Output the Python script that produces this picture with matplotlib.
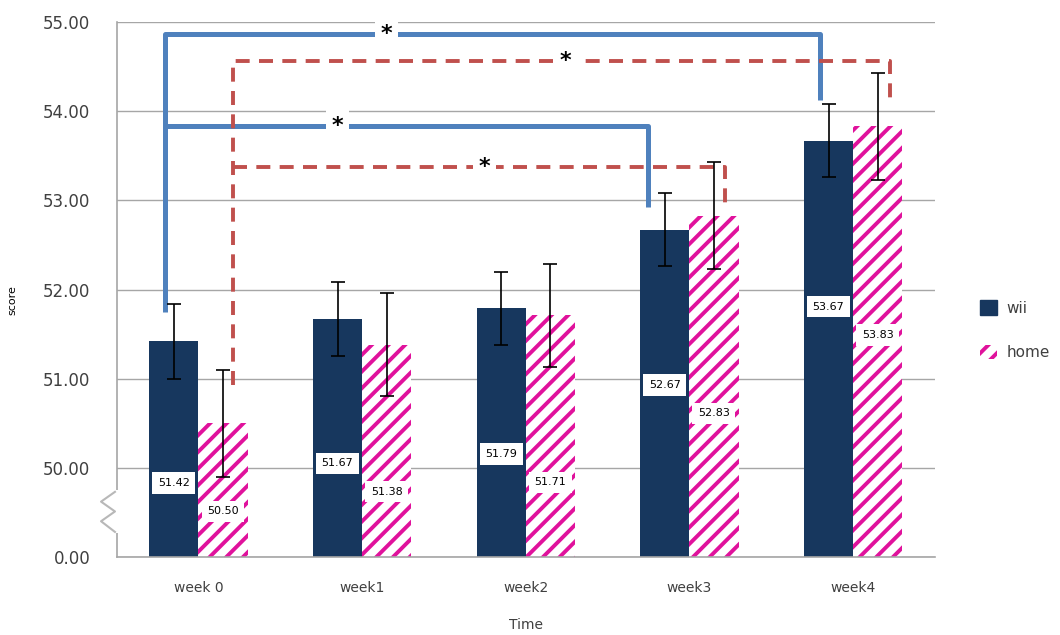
import matplotlib
matplotlib.use("Agg")
import matplotlib.pyplot as plt
from matplotlib.patches import Patch, Rectangle

# Werte aus dem Diagramm
weeks = ["week 0", "week1", "week2", "week3", "week4"]
wii = [51.42, 51.67, 51.79, 52.67, 53.67]
home = [50.50, 51.38, 51.71, 52.83, 53.83]
wii_err = [0.42, 0.41, 0.41, 0.41, 0.41]
home_err = [0.60, 0.58, 0.58, 0.60, 0.60]
ytick_values = [0, 50, 51, 52, 53, 54, 55]

# Signifikanz-Klammern: (x links, x rechts, Höhe, unten links, unten rechts, Stern-x, Farbe, Stil)
brackets = [
    (-0.207, 3.797, 54.87, 51.75, 54.13, 1.150, "#4F81BD", "-"),
    (-0.207, 2.746, 53.84, 53.84, 52.93, 0.851, "#4F81BD", "-"),
    (0.209, 4.225, 54.57, 50.93, 54.13, 2.244, "#C0504D", (0, (3.6, 2.4))),
    (0.209, 3.216, 53.38, 53.38, 52.93, 1.749, "#C0504D", (0, (3.6, 2.4))),
]

WII_COLOR = "#17375E"
HOME_COLOR = "#E0129C"
GRID = "#A6A6A6"
TEXT = "#404040"


def disp(v):
    # unterbrochene Achse: 0 unten, danach 50..55
    return 0 if v == 0 else v - 49


plt.rcParams["hatch.linewidth"] = 2.8
plt.rcParams["hatch.color"] = HOME_COLOR

fig = plt.figure(figsize=(10.6, 6.35), dpi=100)
ax = fig.add_axes([0.110, 0.123, 0.772, 0.842])

x = list(range(len(weeks)))
w = 0.30
wii_h = [disp(v) for v in wii]
home_h = [disp(v) for v in home]

ax.bar([i - w / 2 for i in x], wii_h, width=w, color=WII_COLOR, zorder=2)
ax.bar([i + w / 2 for i in x], home_h, width=w, color="white",
       edgecolor=HOME_COLOR, linewidth=0, hatch="//", zorder=2)

ax.errorbar([i - w / 2 for i in x], wii_h, yerr=wii_err, fmt="none",
            ecolor="black", elinewidth=1.2, capsize=5, capthick=1.2, zorder=4)
ax.errorbar([i + w / 2 for i in x], home_h, yerr=home_err, fmt="none",
            ecolor="black", elinewidth=1.2, capsize=5, capthick=1.2, zorder=4)

# Datenbeschriftungen
for i in x:
    ly = 0.88 * wii_h[i] - 1.30
    ax.text(i - w / 2, ly, f"{wii[i]:.2f}", ha="center", va="center",
            fontsize=8, color="black", zorder=5,
            bbox=dict(boxstyle="square,pad=0.5", fc="white", ec="none"))
    ax.text(i + w / 2, ly - 0.32, f"{home[i]:.2f}", ha="center", va="center",
            fontsize=8, color="black", zorder=5,
            bbox=dict(boxstyle="square,pad=0.5", fc="white", ec="none"))

# Klammern mit Sternchen
for x0, x1, lvl, yb0, yb1, sx, col, ls in brackets:
    ax.plot([x0, x0, x1, x1], [disp(yb0), disp(lvl), disp(lvl), disp(yb1)],
            color=col, lw=3.6 if ls == "-" else 2.8, linestyle=ls,
            solid_capstyle="butt", zorder=3, clip_on=False)
    ax.text(sx, disp(lvl), "*", ha="center", va="center", fontsize=16,
            fontweight="bold", color="black", zorder=6,
            bbox=dict(boxstyle="square,pad=0.25", fc="white", ec="none"))

ax.set_xlim(-0.5, 4.5)
ax.set_ylim(0, 6)
ax.set_yticks([disp(v) for v in ytick_values])
ax.set_yticklabels([f"{v:.2f}" for v in ytick_values], color=TEXT, fontsize=12)
ax.set_xticks(x)
ax.set_xticklabels(weeks, color=TEXT, fontsize=10)
ax.tick_params(axis="x", length=0, pad=17)
ax.tick_params(axis="y", length=0, pad=19)
ax.yaxis.grid(True, color=GRID, lw=1, zorder=0)
ax.set_axisbelow(True)
for s in ["top", "right"]:
    ax.spines[s].set_visible(False)
for s in ["left", "bottom"]:
    ax.spines[s].set_color(GRID)
    ax.spines[s].set_linewidth(1.2)

ax.set_xlabel("Time", color=TEXT, fontsize=10, va="center")
ax.xaxis.set_label_coords(0.5, -0.127)
ax.set_ylabel("score", color="black", fontsize=8)
ax.yaxis.set_label_coords(-0.121, 0.48)

# Achsenbruch-Symbol
ax.add_patch(Rectangle((-0.6, 0.27), 0.12, 0.48, transform=ax.transData,
                       fc="white", ec="none", clip_on=False, zorder=5))
ax.plot([-0.51, -0.595, -0.51, -0.595, -0.51], [0.73, 0.62, 0.51, 0.40, 0.28],
        color="#B8B8B8", lw=1.5, clip_on=False, zorder=6)

handles = [Patch(facecolor=WII_COLOR, edgecolor=WII_COLOR, label="wii"),
           Patch(facecolor="white", edgecolor=HOME_COLOR, linewidth=0,
                 hatch="//", label="home")]
leg = fig.legend(handles=handles, loc="center left", bbox_to_anchor=(0.912, 0.48),
                 frameon=False, fontsize=11, handlelength=1.1, handleheight=1.1,
                 labelspacing=1.9, handletextpad=0.6)
for t in leg.get_texts():
    t.set_color(TEXT)

fig.savefig("out.png", dpi=100)
